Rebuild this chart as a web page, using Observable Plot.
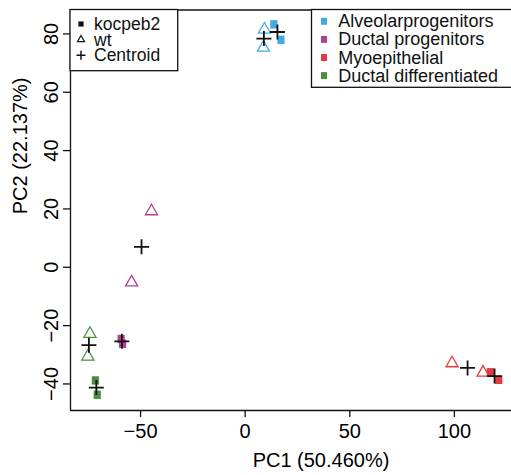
<!DOCTYPE html>
<html><head><meta charset="utf-8">
<script src="https://cdn.jsdelivr.net/npm/d3@7"></script>
<script src="https://cdn.jsdelivr.net/npm/@observablehq/plot@0.6"></script>
<style>
html,body{margin:0;padding:0;overflow:hidden;background:#fff;}
#chart svg{font-family:"Liberation Sans",Arial,Helvetica,sans-serif;}
</style>
</head><body><div id="chart"></div>
<script>
// ---- data ----
const cellTypes = ["Alveolarprogenitors", "Ductal progenitors", "Myoepithelial", "Ductal differentiated"];
const typeColors = ["#42ace2", "#b43f92", "#e23b44", "#4b8f3c"];
const genotypes = ["kocpeb2", "wt"];
const legendShapeLabels = ["kocpeb2", "wt", "Centroid"];

const sampleType = [
  "Alveolarprogenitors", "Alveolarprogenitors", "Alveolarprogenitors", "Alveolarprogenitors",
  "Ductal progenitors", "Ductal progenitors", "Ductal progenitors", "Ductal progenitors",
  "Myoepithelial", "Myoepithelial", "Myoepithelial", "Myoepithelial",
  "Ductal differentiated", "Ductal differentiated", "Ductal differentiated", "Ductal differentiated"
];
const sampleGenotype = [
  "wt", "wt", "kocpeb2", "kocpeb2",
  "wt", "wt", "kocpeb2", "kocpeb2",
  "wt", "wt", "kocpeb2", "kocpeb2",
  "wt", "wt", "kocpeb2", "kocpeb2"
];
const pc1 = [9.2, 8.7, 13.7, 17.1, -44.8, -54.3, -59.3, -58.6, 98.9, 113.7, 117.2, 121.2, -74.2, -75.2, -71.6, -70.7];
const pc2 = [81.5, 75.3, 83.3, 78.0, 19.2, -5.2, -24.6, -26.2, -32.9, -36.1, -36.0, -38.6, -22.8, -30.6, -38.8, -43.7];

const xTicks = [-50, 0, 50, 100];
const yTicks = [-40, -20, 0, 20, 40, 60, 80];
const xLabel = "PC1 (50.460%)";
const yLabel = "PC2 (22.137%)";
const xDomain = [-83.5, 127.3];
const yDomain = [-49.1, 88.2];

// ---- build table ----
const samples = pc1.map((x, i) => ({x, y: pc2[i], type: sampleType[i], genotype: sampleGenotype[i]}));
const centroids = d3.flatGroup(samples, d => d.type, d => d.genotype)
  .map(([type, genotype, rows]) => ({type, genotype, x: d3.mean(rows, d => d.x), y: d3.mean(rows, d => d.y)}));

const fmt = d => d < 0 ? "\u2212" + Math.abs(d) : String(d);
const plusSymbol = {draw(ctx) { const r = 7.5; ctx.moveTo(-r, 0); ctx.lineTo(r, 0); ctx.moveTo(0, -r); ctx.lineTo(0, r); }};
const rectSymbol = {draw(ctx) { ctx.rect(-3.6, -4.2, 7.2, 8.4); }};

const chart = Plot.plot({
  width: 511,
  height: 475,
  marginLeft: 70,
  marginRight: 0,
  marginTop: 9.5,
  marginBottom: 65,
  style: {fontFamily: "Liberation Sans, Arial, Helvetica, sans-serif", background: "#fff"},
  x: {domain: xDomain},
  y: {domain: yDomain},
  color: {domain: cellTypes, range: typeColors},
  marks: [
    Plot.ruleX([xDomain[0]], {stroke: "#111", strokeWidth: 1.3}),
    Plot.ruleY([yDomain[0], yDomain[1]], {stroke: "#111", strokeWidth: 1.3}),
    Plot.axisX({ticks: xTicks, tickSize: 7, tickPadding: 6, tickFormat: fmt, fontSize: 20, label: null, stroke: "#111", strokeWidth: 1.3}),
    Plot.axisY({ticks: yTicks, tickSize: 7, tickRotate: -90, tickPadding: 6, tickFormat: fmt, fontSize: 20, label: null, stroke: "#111", strokeWidth: 1.3}),
    Plot.text([xLabel], {frameAnchor: "bottom", dx: 30, dy: 56, fontSize: 20, lineAnchor: "bottom"}),
    Plot.text([yLabel], {frameAnchor: "left", rotate: -90, dx: -44, dy: 4, fontSize: 20, lineAnchor: "bottom"}),
    Plot.dot(samples.filter(d => d.genotype === "wt"), {x: "x", y: "y", symbol: "triangle", r: 4.5, stroke: "type", fill: "none", strokeWidth: 1.3}),
    Plot.dot(samples.filter(d => d.genotype === "kocpeb2"), {x: "x", y: "y", symbol: rectSymbol, fill: "type", stroke: "none"}),
    Plot.dot(centroids, {x: "x", y: "y", symbol: plusSymbol, stroke: "#111", fill: "none", strokeWidth: 1.8})
  ]
});
document.getElementById("chart").appendChild(chart);

// ---- legends (drawn into the same svg) ----
const svg = d3.select(chart);
const font = "Liberation Sans, Arial, Helvetica, sans-serif";
// shape legend (top-left)
const gL = svg.append("g").attr("text-anchor", "start");
gL.append("rect").attr("x", 70).attr("y", 9.5).attr("width", 107.7).attr("height", 61.2)
  .attr("fill", "#fff").attr("stroke", "#111").attr("stroke-width", 1.3);
legendShapeLabels.forEach((lab, i) => {
  const base = 30 + i * 15.6;
  const cy = base - 6;
  if (i === 0) gL.append("rect").attr("x", 81 - 2.6).attr("y", cy - 2.6).attr("width", 5.2).attr("height", 5.2).attr("fill", "#111");
  if (i === 1) gL.append("path").attr("transform", `translate(81,${cy})`).attr("d", d3.symbol(d3.symbolTriangle, 22)()).attr("fill", "none").attr("stroke", "#111").attr("stroke-width", 1.2);
  if (i === 2) gL.append("path").attr("d", `M${81 - 4.5},${cy}H${81 + 4.5}M81,${cy - 4.5}V${cy + 4.5}`).attr("stroke", "#111").attr("stroke-width", 1.5);
  gL.append("text").attr("x", 94).attr("y", base).attr("text-anchor", "start").attr("font-size", 17.5).attr("font-family", font).attr("fill", "#111").text(lab);
});
// colour legend (top-right)
const gR = svg.append("g").attr("text-anchor", "start");
gR.append("rect").attr("x", 311.5).attr("y", 9.5).attr("width", 215).attr("height", 77.8)
  .attr("fill", "#fff").attr("stroke", "#111").attr("stroke-width", 1.3);
cellTypes.forEach((lab, i) => {
  const base = 27.3 + i * 18.1;
  gR.append("rect").attr("x", 321).attr("y", base - 9.5).attr("width", 6).attr("height", 7).attr("fill", typeColors[i]);
  gR.append("text").attr("x", 338.3).attr("y", base).attr("text-anchor", "start").attr("font-size", 18).attr("font-family", font).attr("fill", "#111").text(lab);
});
</script>
</body></html>
